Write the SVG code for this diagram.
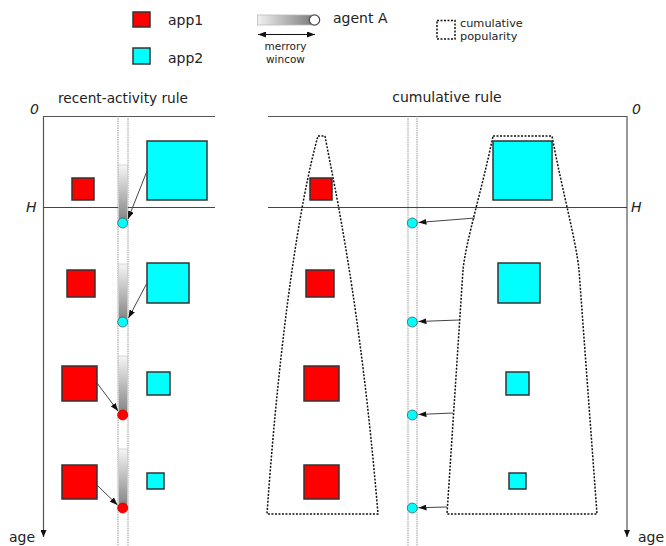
<svg xmlns="http://www.w3.org/2000/svg" width="666" height="546" viewBox="0 0 666 546">
<defs>
<linearGradient id="gv" x1="0" y1="0" x2="0" y2="1"><stop offset="0" stop-color="#f6f6f6"/><stop offset="1" stop-color="#7f7f7f"/></linearGradient>
<linearGradient id="gh" x1="0" y1="0" x2="1" y2="0"><stop offset="0" stop-color="#f2f2f2"/><stop offset="1" stop-color="#7f7f7f"/></linearGradient>
<marker id="ah" viewBox="0 0 8 6" refX="8" refY="3" markerWidth="8" markerHeight="6" markerUnits="userSpaceOnUse" orient="auto-start-reverse"><path d="M0,0 L8,3 L0,6 z" fill="#111"/></marker>
<marker id="ax" viewBox="0 0 6 7" refX="3" refY="7" markerWidth="6" markerHeight="7" markerUnits="userSpaceOnUse" orient="0"><path d="M0,0 L6,0 L3,7 z" fill="#111"/></marker>
</defs>
<style>
text{font-family:"DejaVu Sans","Liberation Sans",sans-serif;fill:#222}
.ax{stroke:#555;stroke-width:1.2;fill:none}
.hl{stroke:#444;stroke-width:1;fill:none}
.strip{stroke:#999;stroke-width:1;stroke-dasharray:1.5 0.8;fill:none}
.bar{fill:url(#gv);stroke:#ccc;stroke-width:0.8}
.r{fill:#ff0000;stroke:#333;stroke-width:1.5}
.c{fill:#00ffff;stroke:#333;stroke-width:1.5}
.ca{fill:#00ffff;stroke:#555;stroke-width:0.8}
.ra{fill:#ff0000;stroke:#c00;stroke-width:0.8}
.dash{fill:none;stroke:#111;stroke-width:1.5;stroke-dasharray:2 1.5}
.con{stroke:#444;stroke-width:1;fill:none;marker-end:url(#ah)}
.lbl{font-size:14px;font-style:italic}
</style>

<g id="legend">
<rect class="r" x="133" y="12" width="17" height="15"/>
<text x="168" y="25" font-size="14">app1</text>
<rect class="c" x="133" y="48" width="17" height="16"/>
<text x="168" y="63" font-size="14">app2</text>
<rect x="257.5" y="15" width="54" height="10" fill="url(#gh)" stroke="#bbb" stroke-width="0.8"/>
<circle cx="314.5" cy="20" r="5.2" fill="#fff" stroke="#444" stroke-width="1.2"/>
<text x="333" y="23" font-size="14">agent A</text>
<line x1="258" y1="34.5" x2="315" y2="34.5" stroke="#111" stroke-width="1" marker-start="url(#ah)" marker-end="url(#ah)"/>
<text x="285.5" y="50" font-size="10.5" text-anchor="middle">merrory</text>
<text x="285.5" y="63" font-size="10.5" text-anchor="middle">wincow</text>
<rect class="dash" x="437" y="20.5" width="18" height="18.5" stroke-width="1.3"/>
<text x="460" y="27" font-size="11.3">cumulative</text>
<text x="460" y="40" font-size="11.3">popularity</text>
</g>

<g id="left-panel">
<text x="123" y="103" font-size="13.7" text-anchor="middle">recent-activity rule</text>
<text class="lbl" x="30" y="114">0</text>
<text class="lbl" x="26" y="212">H</text>
<line class="ax" x1="43.5" y1="116" x2="43.5" y2="537" marker-end="url(#ax)"/>
<line class="ax" x1="43.5" y1="116.5" x2="215" y2="116.5"/>
<line class="hl" x1="43.5" y1="207.5" x2="215" y2="207.5"/>
<text x="9" y="542" font-size="14">age</text>
<line class="strip" x1="118" y1="116" x2="118" y2="546"/>
<line class="strip" x1="128" y1="116" x2="128" y2="546"/>
</g>

<g id="left-agent">
<rect class="bar" x="118.5" y="165" width="9" height="58"/>
<rect class="bar" x="118.5" y="264" width="9" height="58"/>
<rect class="bar" x="118.5" y="356" width="9" height="59"/>
<rect class="bar" x="118.5" y="449" width="9" height="59"/>
<circle class="ca" cx="122.7" cy="223" r="5"/>
<circle class="ca" cx="122.7" cy="322" r="5"/>
<circle class="ra" cx="122.7" cy="415" r="5"/>
<circle class="ra" cx="122.7" cy="508" r="5"/>
</g>

<g id="left-apps">
<rect class="r" x="72" y="178" width="22" height="22"/>
<rect class="c" x="147" y="141" width="60" height="59"/>
<rect class="r" x="67" y="270" width="28" height="27"/>
<rect class="c" x="147" y="263" width="42" height="40"/>
<rect class="r" x="62" y="366" width="35" height="35"/>
<rect class="c" x="147" y="372" width="23" height="23"/>
<rect class="r" x="62" y="465" width="35" height="34"/>
<rect class="c" x="147" y="473" width="17" height="16"/>
</g>

<g id="right-panel">
<text x="447" y="102" font-size="14" text-anchor="middle">cumulative rule</text>
<text class="lbl" x="632" y="114">0</text>
<text class="lbl" x="631" y="212">H</text>
<line class="ax" x1="627" y1="116" x2="627" y2="537" marker-end="url(#ax)"/>
<line class="ax" x1="268" y1="116.5" x2="627" y2="116.5"/>
<line class="hl" x1="268" y1="207.5" x2="627" y2="207.5"/>
<text x="638" y="542" font-size="14">age</text>
<line class="strip" x1="408" y1="116" x2="408" y2="546"/>
<line class="strip" x1="417" y1="116" x2="417" y2="546"/>
</g>

<g id="popularity-app1">
<path class="dash" d="M318,136 L325,136 C335,190 360,300 378,514 L267,514 C280,330 300,200 318,136 Z"/>
</g>
<g id="popularity-app2">
<path class="dash" d="M493,136 L552,136 C562,190 576,240 579,270 L597,514 L447,514 L463,270 C466,240 482,190 493,136 Z"/>
</g>

<g id="right-apps">
<rect class="r" x="310" y="178" width="22" height="22"/>
<rect class="r" x="306" y="270" width="28" height="27"/>
<rect class="r" x="304" y="366" width="35" height="35"/>
<rect class="r" x="304" y="465" width="35" height="34"/>
<rect class="c" x="493" y="141" width="59" height="59"/>
<rect class="c" x="498" y="263" width="42" height="40"/>
<rect class="c" x="506" y="372" width="23" height="23"/>
<rect class="c" x="509" y="473" width="17" height="16"/>
</g>

<g id="right-agent">
<circle class="ca" cx="412.3" cy="223" r="5"/>
<circle class="ca" cx="412.3" cy="322" r="5"/>
<circle class="ca" cx="412.3" cy="415" r="5"/>
<circle class="ca" cx="412.3" cy="508" r="5"/>
</g>

<g id="connectors">
<line class="con" x1="147" y1="171" x2="128" y2="219"/>
<line class="con" x1="147" y1="283" x2="128.5" y2="318"/>
<line class="con" x1="97" y1="383" x2="118" y2="411"/>
<line class="con" x1="97" y1="485" x2="117.5" y2="505"/>
<line class="con" x1="475" y1="218" x2="418.5" y2="222.5"/>
<line class="con" x1="459" y1="320" x2="418.5" y2="321.5"/>
<line class="con" x1="453" y1="413" x2="418.5" y2="414.5"/>
<line class="con" x1="447" y1="507" x2="418.5" y2="507.7"/>
</g>
</svg>
